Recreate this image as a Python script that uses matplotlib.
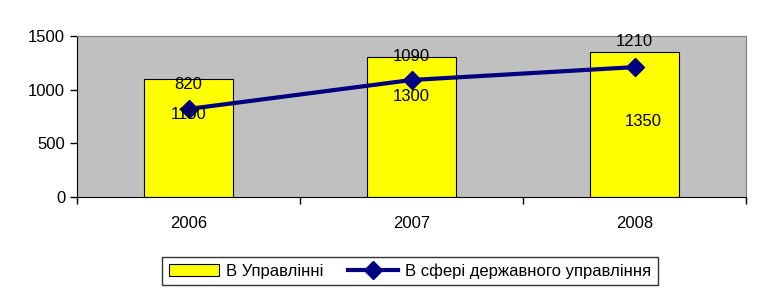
import numpy as np
import matplotlib.pyplot as plt

plt.rcParams['font.family'] = ['Liberation Sans', 'DejaVu Sans']

years = ['2006', '2007', '2008']
upravlinnia = [1100, 1300, 1350]
sfera = [820, 1090, 1210]
# label offsets in pixels relative to the line points (layout only)
bar_label_off = [(0, -6), (0, -16), (9, -54)]
line_label_off = [(0, 24), (0, 24), (0, 26)]

fig = plt.figure(figsize=(7.66, 3.0), dpi=100)
ax = fig.add_axes([77 / 766, 1 - 197 / 300, (746 - 77) / 766, (197 - 36) / 300])
ax.set_facecolor('#c0c0c0')

x = np.arange(len(years))
bars = ax.bar(x, upravlinnia, width=0.4, color='#ffff00', edgecolor='black',
              linewidth=0.8, label='В Управлінні', zorder=2)
line, = ax.plot(x, sfera, color='#000080', linewidth=3, marker='D', markersize=8.7,
                label='В сфері державного управління', zorder=3)

for i in range(len(years)):
    ax.annotate(str(sfera[i]), (x[i], sfera[i]), xytext=line_label_off[i],
                textcoords='offset pixels', ha='center', va='center', fontsize=12, zorder=4)
    ax.annotate(str(upravlinnia[i]), (x[i], sfera[i]), xytext=bar_label_off[i],
                textcoords='offset pixels', ha='center', va='center', fontsize=12, zorder=4)

ax.set_xlim(-0.5, 2.5)
ax.set_ylim(0, 1500)
ax.set_yticks([0, 500, 1000, 1500])
ax.set_xticks(x)
ax.set_xticklabels(years)
ax.set_xticks([-0.5, 0.5, 1.5, 2.5], minor=True)
ax.tick_params(axis='x', which='major', length=0, pad=14, labelsize=12)
ax.tick_params(axis='x', which='minor', length=5, width=1)
ax.tick_params(axis='y', length=5, width=1, labelsize=12)

for s in ['top', 'right']:
    ax.spines[s].set_color('#808080')
ax.spines['left'].set_color('black')
ax.spines['bottom'].set_color('black')

fig.legend([bars, line], ['В Управлінні', 'В сфері державного управління'],
           loc='center', bbox_to_anchor=(410 / 766, 1 - 271 / 300), ncol=2,
           fontsize=12, frameon=True, fancybox=False, edgecolor='black',
           handlelength=3, columnspacing=1.5, handletextpad=0.4,
           borderpad=0.4)

fig.savefig('out.png', dpi=100)
